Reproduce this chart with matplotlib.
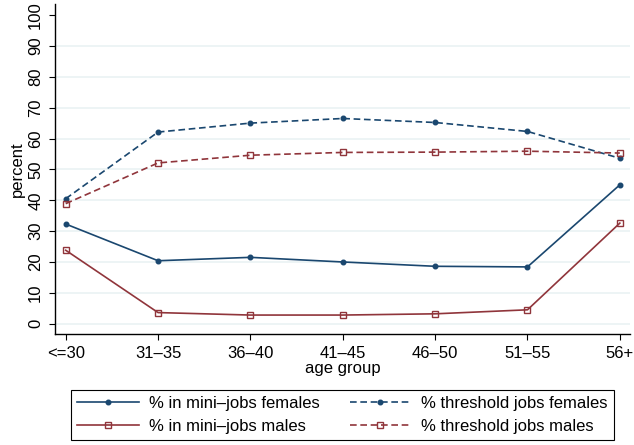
import matplotlib
matplotlib.use("Agg")
import matplotlib.pyplot as plt

plt.rcParams['font.family'] = ['Liberation Sans', 'DejaVu Sans']

# age groups on the x axis
age_groups = ['<=30', '31\u201335', '36\u201340', '41\u201345', '46\u201350', '51\u201355', '56+']

# shares in percent
mini_females = [32.3, 20.4, 21.5, 20.0, 18.6, 18.4, 45.0]
mini_males = [23.8, 3.6, 2.8, 2.8, 3.2, 4.5, 32.6]
threshold_females = [40.5, 62.1, 65.0, 66.5, 65.2, 62.3, 53.6]
threshold_males = [38.9, 52.1, 54.6, 55.5, 55.6, 55.9, 55.3]

navy = '#1a476f'
maroon = '#90353b'
fs = 12

fig = plt.figure(figsize=(6.34, 4.45), dpi=100)
ax = fig.add_axes([55 / 634, 1 - 334 / 445, 575 / 634, 330 / 445])

x = range(len(age_groups))
dash = (4, 2.2)
ax.plot(x, mini_females, color=navy, lw=1.2, marker='o', ms=3.3,
        label='% in mini\u2013jobs females')
ax.plot(x, mini_males, color=maroon, lw=1.2, marker='s', ms=4.2,
        mfc='none', mew=1.0, label='% in mini\u2013jobs males')
ax.plot(x, threshold_females, color=navy, lw=1.2, ls=(0, dash), marker='o', ms=3.3,
        label='% threshold jobs females')
ax.plot(x, threshold_males, color=maroon, lw=1.2, ls=(0, dash), marker='s', ms=4.2,
        mfc='none', mew=1.0, label='% threshold jobs males')

ax.set_xlim(-0.116, 6.11)
ax.set_ylim(-3.34, 103.6)
ax.set_xticks(list(x))
ax.set_xticklabels(age_groups, fontsize=fs)
ax.set_yticks(range(0, 101, 10))
ax.set_yticklabels([str(v) for v in range(0, 101, 10)], fontsize=fs,
                   rotation=90, va='center')
ax.tick_params(direction='out', length=4.5, width=0.8, color='black')
ax.tick_params(axis='x', pad=4)
ax.tick_params(axis='y', pad=4)

# light horizontal grid, none at the top tick
for v in range(0, 100, 10):
    ax.axhline(v, color='#eaf2f3', lw=1.2, zorder=0)

for side in ('top', 'right'):
    ax.spines[side].set_visible(False)
for side in ('left', 'bottom'):
    ax.spines[side].set_linewidth(1.0)

ax.set_xlabel('age group', fontsize=fs, labelpad=0)
ax.set_ylabel('percent', fontsize=fs, labelpad=2)

handles, labels = ax.get_legend_handles_labels()
leg = fig.legend(handles, labels,
                 loc='center', bbox_to_anchor=(342.5 / 634, 1 - 415 / 445),
                 ncol=2, fontsize=fs, frameon=True, fancybox=False,
                 edgecolor='black', framealpha=1, handlelength=3.7,
                 handletextpad=0.6, columnspacing=1.8, labelspacing=0.45,
                 borderpad=0.35)
leg.get_frame().set_linewidth(0.8)

fig.savefig('out.png', dpi=100)
